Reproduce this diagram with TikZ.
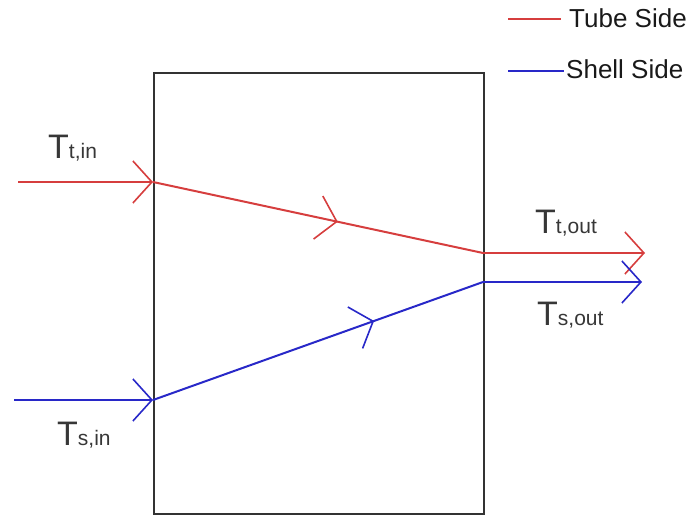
\documentclass[tikz,border=0pt]{standalone}
\usepackage{fontspec}
\setmainfont{Liberation Sans}
\usetikzlibrary{arrows.meta,decorations.markings}
\definecolor{tubered}{RGB}{214,62,62}
\definecolor{shellblue}{RGB}{40,40,200}
\definecolor{txtgray}{RGB}{55,55,55}
\tikzset{
  barb/.style={-{Straight Barb[length=19pt,width=42pt,line width=1.6pt]}},
  tubeline/.style={draw=tubered,line width=2pt},
  shellline/.style={draw=shellblue,line width=2pt},
  midbarb/.style={postaction={decorate},decoration={markings,mark=at position #1 with {\arrow{Straight Barb[length=19pt,width=44pt,line width=1.6pt]}}}},
  lbl/.style={anchor=base west,inner sep=0pt,text=txtgray},
  legtxt/.style={anchor=base west,inner sep=0pt,text=black!90,font=\fontsize{26}{26}\selectfont}
}
\newcommand{\Tlab}[1]{\fontsize{34}{34}\selectfont T\fontsize{21}{21}\selectfont #1}
\begin{document}
\begin{tikzpicture}[x=1pt,y=-1pt]
\useasboundingbox (0,0) rectangle (699,519);
% box
\node[draw=black!80,line width=2pt,minimum width=330pt,minimum height=441pt,inner sep=0pt,anchor=north west] (box) at (153,72) {};
% coordinates
\coordinate (tin) at (18,182);
\coordinate (tbox) at (153,182);
\coordinate (tjoin) at (483,253);
\coordinate (tout) at (645,253);
\coordinate (sin) at (14,400);
\coordinate (sbox) at (153,400);
\coordinate (sjoin) at (483,282);
\coordinate (sout) at (642,282);
% tube side
\draw[tubeline,barb] (tin) -- (tbox);
\draw[tubeline,midbarb=0.56] (tbox) -- (tjoin);
\draw[tubeline,barb] (tjoin) -- (tout);
% shell side
\draw[shellline,barb] (sin) -- (sbox);
\draw[shellline,midbarb=0.67] (sbox) -- (sjoin);
\draw[shellline,barb] (sjoin) -- (sout);
% labels
\node[lbl] (ltin) at (48,158) {\Tlab{t,in}};
\node[lbl] (lsin) at (57,445) {\Tlab{s,in}};
\node[lbl] (ltout) at (535,233) {\Tlab{t,out}};
\node[lbl] (lsout) at (537,325) {\Tlab{s,out}};
% legend
\coordinate (lega) at (508,19);
\coordinate (legb) at (561,19);
\coordinate (legc) at (508,71);
\coordinate (legd) at (564,71);
\draw[tubeline] (lega) -- (legb);
\draw[shellline] (legc) -- (legd);
\node[legtxt] (tube) at (569,28) {Tube Side};
\node[legtxt] (shell) at (566,79) {Shell Side};
\end{tikzpicture}
\end{document}
